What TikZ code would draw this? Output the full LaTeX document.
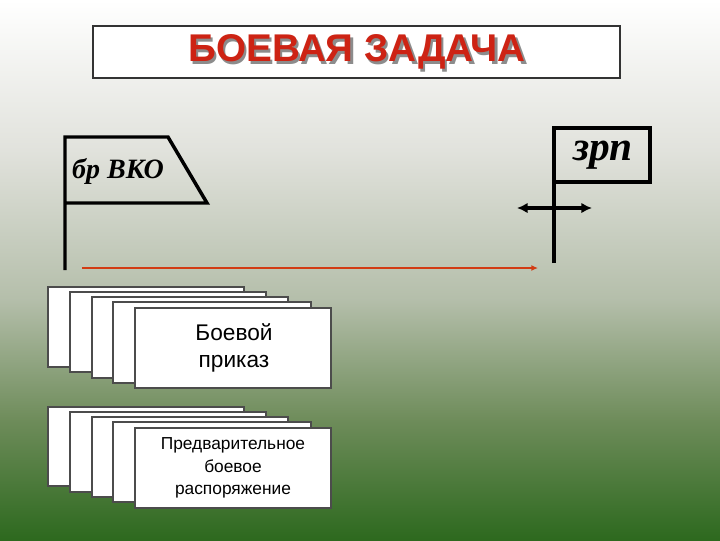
\documentclass[tikz,border=0pt]{standalone}
\usepackage{fontspec}
\usetikzlibrary{arrows.meta}
\setmainfont{Liberation Sans}
\newfontfamily\serifit{Liberation Serif}
\definecolor{titlered}{RGB}{205,35,20}
\definecolor{arrred}{RGB}{210,60,20}
\definecolor{bgA}{RGB}{255,255,255}
\definecolor{bgB}{RGB}{225,226,220}
\definecolor{bgC}{RGB}{180,190,170}
\definecolor{bgD}{RGB}{110,140,90}
\definecolor{bgE}{RGB}{45,105,30}
\tikzset{
  card/.style={draw=black!70, fill=white, line width=0.8pt},
  flagline/.style={line width=2.6pt, black},
  cardtext/.style={align=center, font=\fontsize{17}{20}\selectfont}
}
\begin{document}
\begin{tikzpicture}[x=0.75pt,y=-0.75pt]
\shade[top color=bgA, bottom color=bgB] (0,0) rectangle (720,150.5);
\shade[top color=bgB, bottom color=bgC] (0,150) rectangle (720,300.5);
\shade[top color=bgC, bottom color=bgD] (0,300) rectangle (720,420.5);
\shade[top color=bgD, bottom color=bgE] (0,420) rectangle (720,540);
\useasboundingbox (0,0) rectangle (720,540);
% title
\node[draw=black!80, line width=1.8pt, fill=white, minimum width=527*0.75pt, minimum height=52*0.75pt, inner sep=0pt] (title) at (356.5,52) {};
\node[text=black!45, font=\bfseries\fontsize{29}{32}\selectfont] at (359.5,54.5) {БОЕВАЯ ЗАДАЧА};
\node[text=titlered, font=\bfseries\fontsize{29}{32}\selectfont] (tt) at (357,52) {БОЕВАЯ ЗАДАЧА};
% flag 1
\draw[flagline] (65,270) -- (65,137) -- (168,137) -- (207,203) -- (65,203);
\node[font=\serifit\bfseries\itshape\fontsize{21}{24}\selectfont] (f1) at (118,171) {бр ВКО};
% flag 2
\draw[flagline] (554,263) -- (554,128) -- (650,128) -- (650,182) -- (554,182);
\node[font=\serifit\bfseries\itshape\fontsize{31}{34}\selectfont] (f2) at (603,155) {зрп};
\coordinate (da) at (517,208);
\coordinate (db) at (592,208);
\draw[line width=3pt, {Latex[length=8pt,width=8pt]}-{Latex[length=8pt,width=8pt]}] (da) -- (db);
\coordinate (ra) at (82,268);
\coordinate (rb) at (538,268);
\draw[arrred, line width=1.5pt, -{Latex[length=5pt,width=4.5pt]}] (ra) -- (rb);
% cards upper
\draw[card] (48,287) rectangle (244,367);
\draw[card] (70,292) rectangle (266,372);
\draw[card] (92,297) rectangle (288,378);
\draw[card] (113,302) rectangle (311,383);
\draw[card] (135,308) rectangle (331,388);
\node[cardtext] (c1) at (234,348) {Боевой\\приказ};
% cards lower
\draw[card] (48,407) rectangle (244,486);
\draw[card] (70,412) rectangle (266,492);
\draw[card] (92,417) rectangle (288,497);
\draw[card] (113,422) rectangle (311,502);
\draw[card] (135,428) rectangle (331,508);
\node[cardtext, font=\fontsize{13}{17}\selectfont] (c2) at (233,468) {Предварительное\\боевое\\распоряжение};
\end{tikzpicture}
\end{document}
